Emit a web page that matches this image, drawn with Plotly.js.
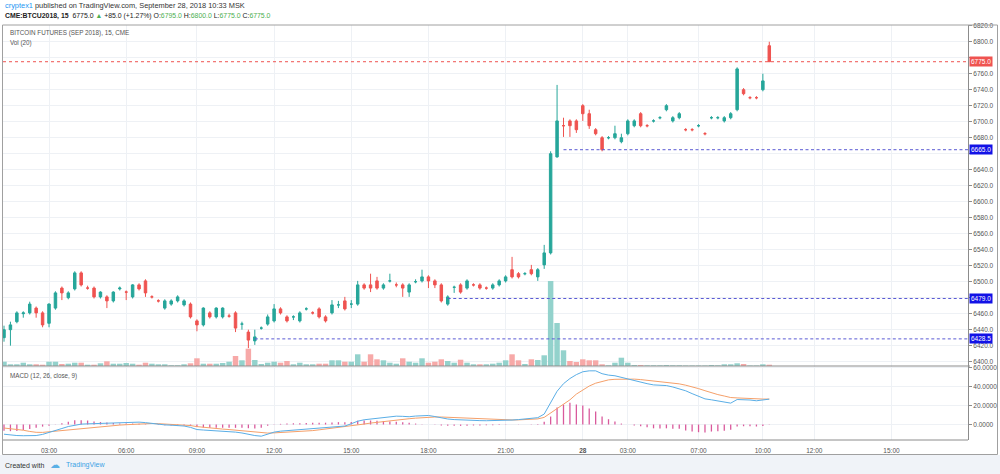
<!DOCTYPE html>
<html><head><meta charset="utf-8">
<script src="https://cdn.plot.ly/plotly-3.0.1.min.js"></script>
<style>html,body{margin:0;padding:0;background:#fff;}#chart{width:1000px;height:474px;}</style>
</head><body><div id="chart"></div>
<script>
// ---- data (15-minute bars, CME:BTCU2018) ----
const openP = [6430,6440,6450,6460,6461,6467,6461,6448,6467,6492,6480,6491,6511,6492,6492,6481,6481,6476,6491,6487,
6481,6496,6501,6481,6476,6467,6472,6476,6471,6472,6451,6446,6461,6456,6456,6457,6461,6447,6437,6426,
6442,6447,6451,6466,6456,6456,6451,6466,6461,6466,6456,6461,6471,6476,6472,6472,6496,6496,6501,6492,
6501,6496,6496,6487,6500,6501,6506,6501,6496,6472,6493,6496,6492,6496,6496,6492,6492,6496,6501,6515,
6510,6510,6515,6506,6521,6536,6656,6695,6701,6701,6720,6710,6690,6680,6680,6680,6675,6685,6695,6710,
6695,6701,6705,6715,6701,6705,6690,6690,6695,6685,6705,6705,6701,6705,6715,6740,6730,6730,6740,6795];
const highP = [6445,6450,6463,6463,6475,6469,6463,6473,6488,6494,6488,6513,6513,6495,6494,6488,6483,6488,6494,6489,
6497,6498,6503,6483,6478,6478,6478,6483,6478,6474,6453,6468,6463,6468,6468,6460,6463,6450,6440,6440,
6444,6459,6472,6468,6458,6458,6463,6468,6463,6468,6458,6477,6476,6481,6477,6501,6498,6510,6506,6498,
6510,6499,6498,6498,6503,6515,6508,6503,6498,6483,6495,6498,6503,6498,6498,6494,6498,6503,6508,6531,
6512,6512,6521,6517,6546,6663,6746,6705,6703,6703,6722,6715,6692,6682,6682,6695,6685,6703,6703,6712,
6697,6703,6707,6722,6707,6712,6692,6692,6697,6687,6707,6707,6707,6712,6768,6742,6732,6732,6760,6800];
const lowP = [6425,6420,6448,6455,6459,6455,6443,6443,6465,6477,6478,6489,6494,6490,6479,6479,6467,6474,6489,6477,
6479,6489,6481,6479,6474,6465,6470,6474,6469,6454,6438,6444,6454,6454,6454,6455,6437,6440,6417,6421,
6440,6445,6449,6459,6449,6452,6449,6464,6459,6454,6449,6459,6467,6464,6467,6470,6490,6487,6490,6490,
6499,6493,6481,6481,6498,6499,6492,6492,6474,6470,6486,6485,6490,6494,6490,6490,6490,6494,6499,6504,
6504,6508,6508,6501,6516,6534,6655,6681,6681,6686,6701,6691,6683,6663,6678,6678,6673,6683,6693,6693,
6693,6699,6703,6713,6699,6703,6688,6688,6693,6683,6703,6703,6699,6703,6713,6733,6728,6728,6738,6775];
const closeP = [6440,6446,6461,6461,6472,6461,6446,6472,6486,6486,6486,6511,6496,6492,6481,6487,6476,6487,6492,6487,
6496,6491,6486,6481,6476,6476,6476,6481,6476,6456,6446,6467,6456,6467,6467,6457,6442,6447,6427,6431,
6442,6456,6466,6461,6451,6456,6461,6466,6461,6456,6451,6471,6471,6466,6472,6496,6492,6492,6492,6496,
6501,6496,6492,6496,6500,6506,6501,6496,6476,6481,6493,6487,6501,6496,6492,6492,6496,6501,6506,6506,
6506,6510,6510,6515,6536,6660,6701,6695,6695,6690,6710,6695,6685,6665,6680,6685,6680,6701,6701,6695,
6695,6701,6705,6720,6705,6710,6690,6690,6695,6685,6705,6705,6705,6710,6766,6735,6730,6730,6751,6775];
const volume = [43,17,17,33,17,17,13,43,43,20,23,33,33,13,13,27,47,23,23,30,
23,13,33,23,17,17,7,7,17,27,77,23,23,23,30,43,100,57,173,60,
20,33,43,33,50,17,33,17,17,23,23,57,57,43,43,117,43,117,67,57,
33,23,77,43,33,77,33,43,67,50,33,63,33,17,17,17,23,33,57,117,
57,20,67,60,107,850,430,157,50,40,67,57,57,17,7,33,83,33,10,10,
7,7,7,10,7,7,5,5,5,5,10,7,17,17,27,20,5,5,17,13];
const macdLine = [-10.2,-11.3,-11.6,-11.8,-11.9,-11.6,-10.4,-8.6,-6.4,-4.2,
-2.1,-0.6,0.4,0.7,0.9,1.1,1.3,1.5,1.7,2.1,
2.5,2.5,2.0,1.0,0.1,-0.4,-0.7,-1.0,-1.6,-3.0,
-5.3,-5.8,-6.2,-6.5,-6.9,-7.3,-8.0,-8.9,-10.5,-11.6,
-12.3,-10.0,-8.0,-7.0,-6.5,-6.1,-5.6,-5.0,-4.4,-3.9,
-3.4,-3.0,-2.4,-1.6,0.8,3.5,5.0,5.9,6.6,7.2,
7.9,8.8,8.6,8.2,8.9,9.3,9.5,8.4,6.9,5.8,
5.2,4.8,4.5,4.3,4.1,4.0,4.0,4.1,4.3,4.7,
5.2,5.7,6.3,7.2,11,23,35,43,48.4,52.5,
55.5,56.5,56.5,53.5,52,51.3,49.5,48,46,44.5,
43,41.7,41.3,41,39.5,37.9,35.5,32.5,29.5,27,
26,25,24,22.5,26.3,26.3,25.8,25,25.6,26.7];
const signalLine = [-3.7,-4.3,-4.8,-6.0,-7.3,-8.2,-8.3,-7.6,-6.9,-6.2,
-5.4,-4.7,-4.0,-3.3,-2.6,-2.0,-1.5,-1.0,-0.6,-0.2,
0.3,0.8,1.1,1.1,0.9,0.6,0.3,0.0,-0.4,-1.1,
-2.2,-3.0,-3.7,-4.3,-4.8,-5.3,-5.9,-6.5,-7.3,-8.1,
-8.8,-9.0,-8.8,-8.5,-8.2,-7.8,-7.4,-6.9,-6.4,-5.6,
-4.8,-4.1,-3.4,-2.6,-1.7,-0.6,0.5,1.5,2.4,3.1,
3.9,4.7,5.5,6.1,6.7,7.3,7.7,7.9,7.9,7.6,
7.2,6.8,6.4,6.0,5.7,5.4,5.1,4.9,4.8,4.8,
4.9,5.1,5.4,5.9,7.5,12,17,21.5,26,32,
36.5,40.5,43.5,45.5,47,47.6,47.9,48,47.8,47.3,
46.6,46,45.4,44.8,44,42.8,41.4,39.8,37.8,35.6,
33.4,31.5,30,28.4,28,27.6,27.2,26.9,26.8,26.8];
const macdHist = [-6.5,-7,-6.8,-5.8,-4.6,-3.4,-2.2,-1.2,-0.2,1.4,
2.8,4.5,4.5,4.2,3.2,2.6,2,1.5,1.1,1,
1,0.7,0.4,0,-0.6,-0.9,-1,-1,-1.1,-1.5,
-2.5,-3.2,-3.4,-3.3,-3.4,-3.5,-3.5,-3.5,-3.9,-4.2,
-3.5,-1.4,-0.3,0.7,1,1.3,1.4,1.5,1.8,1.8,
1.9,2.1,2.5,2.5,2.6,3.9,4.2,4.2,3.9,3.7,
3.2,2.8,2.5,1.8,1,0.3,0,-0.3,-1,-1.4,
-1.4,-1.4,-1.3,-1,-1,-0.9,-0.7,-0.5,-0.3,0,
-0.2,-0.1,0.3,0.6,3,8.4,18,21,22.8,21,
20,16.8,13.7,8.4,5.6,3.3,1,0,-1,-1.8,
-3,-4,-4.2,-4,-4.5,-4.5,-6.3,-7.4,-8.1,-8.4,
-7.4,-7,-6.5,-5.6,-2.1,-1.8,-1.8,-2.1,-1.5,-0.3];
const tickBars = [7,19,30,42,54,66,78,90,97,108,118,126,138];
const tickLabels = ['03:00','06:00','09:00','12:00','15:00','18:00','21:00','<b>28</b>','03:00','07:00','10:00','12:00','15:00'];
const priceTicks = [6400,6420,6440,6460,6480,6500,6520,6540,6560,6580,6600,6620,6640,6660,6680,6700,6720,6740,6760,6780,6800,6820];
const macdTicks = [0, 20, 40, 60];
const levelPrices = [6665, 6479, 6428.5];
const levelStartBars = [87, 69, 39];
const lastPrice = 6775;

// ---- layout geometry / styles ----
const W = 1000, H = 474, ML = 3, MR = 32, MT = 25, MB = 34;
const plotW = W - ML - MR, plotH = H - MT - MB;
const pxX = px => (px - ML) / plotW;
const pxY = py => (H - MB - py) / plotH;
const macdFrac = pxY(366);
const barPx = 6.431;
const xr = [-(4 - ML) / barPx, -(4 - ML) / barPx + plotW / barPx];
const FONT = 'Liberation Sans, Arial, sans-serif';
const UP = '#26a69a', DN = '#ef5350', UPV = '#93d2cc', DNV = '#f7a9a8';
const GRID = '#eef1f5', AX = '#8c8c8c', TXT = '#555555';
const LVL = '#5a5ad4', LVLBG = '#1212e6';

const xs = openP.map((_, i) => i);
const volColors = openP.map((o, i) => closeP[i] >= o ? UPV : DNV);
// tick labels hidden behind the price tags (as in the original, the tags cover them)
const tagPrices = [lastPrice].concat(levelPrices);
const priceTickText = priceTicks.map(v => tagPrices.some(p => Math.abs(p - v) < 8) ? '' : v.toFixed(1));

const traces = [
  {type: 'bar', x: xs, y: volume, xaxis: 'x', yaxis: 'y', width: 0.85,
   marker: {color: volColors, line: {width: 0}}, hoverinfo: 'skip'},
  {type: 'candlestick', x: xs, open: openP, high: highP, low: lowP, close: closeP,
   xaxis: 'x', yaxis: 'y3', whiskerwidth: 0,
   increasing: {line: {color: UP, width: 1}, fillcolor: UP},
   decreasing: {line: {color: DN, width: 1}, fillcolor: DN}, hoverinfo: 'skip'},
  {type: 'bar', x: xs, y: macdHist, xaxis: 'x', yaxis: 'y2', width: 0.2,
   marker: {color: '#d9599c', line: {width: 0}}, hoverinfo: 'skip'},
  {type: 'scatter', mode: 'lines', x: xs, y: signalLine, xaxis: 'x', yaxis: 'y2',
   line: {color: '#f5a06a', width: 1}, hoverinfo: 'skip'},
  {type: 'scatter', mode: 'lines', x: xs, y: macdLine, xaxis: 'x', yaxis: 'y2',
   line: {color: '#5aaee6', width: 1}, hoverinfo: 'skip'}
];

const shapes = [
  {type: 'rect', xref: 'paper', yref: 'paper', x0: pxX(0), x1: pxX(1000), y0: pxY(474), y1: pxY(455),
   fillcolor: '#f0f3f8', line: {width: 0}, layer: 'below'},
  {type: 'rect', xref: 'paper', yref: 'paper', x0: pxX(2.5), x1: pxX(997.5), y0: pxY(454.5), y1: pxY(25),
   line: {color: '#a0a0a0', width: 1}, fillcolor: 'rgba(0,0,0,0)'},
  {type: 'line', xref: 'paper', yref: 'paper', x0: 0, x1: pxX(970), y0: macdFrac, y1: macdFrac,
   line: {color: AX, width: 1}},
  {type: 'line', xref: 'paper', yref: 'paper', x0: 0, x1: 1, y0: 0, y1: 0,
   line: {color: AX, width: 1}},
  {type: 'line', xref: 'paper', yref: 'y3', x0: 0, x1: 1, y0: lastPrice, y1: lastPrice,
   line: {color: DN, width: 1, dash: 'dot'}}
];
levelPrices.forEach((p, k) => shapes.push({type: 'line', xref: 'x', yref: 'y3',
  x0: levelStartBars[k], x1: xr[1], y0: p, y1: p, line: {color: LVL, width: 1, dash: '3px,2.5px'}}));

const tagFont = {family: FONT, size: 6.5, color: '#ffffff'};
const annotations = [
  {xref: 'paper', yref: 'y3', x: 1, y: lastPrice, xanchor: 'left', yanchor: 'middle', xshift: 1,
   text: lastPrice.toFixed(1), showarrow: false, bgcolor: DN, font: tagFont, borderpad: 1}
];
levelPrices.forEach(p => annotations.push({xref: 'paper', yref: 'y3', x: 1, y: p, xanchor: 'left',
  yanchor: 'middle', xshift: 1, text: p.toFixed(1), showarrow: false, bgcolor: LVLBG, font: tagFont, borderpad: 1}));

const G = '#4caf50';
const hdr = (txt, py, px, size, color) => ({xref: 'paper', yref: 'paper', x: pxX(px), y: pxY(py),
  xanchor: 'left', yanchor: 'middle', text: txt, showarrow: false, align: 'left',
  font: {family: FONT, size: size, color: color}});
annotations.push(
  hdr('<span style="color:#2196f3">cryptex1</span> published on TradingView.com, September 28, 2018 10:33 MSK', 6, 3, 7.4, '#333333'),
  hdr('<b>CME:BTCU2018, 15</b>  6775.0 <span style="color:' + G + '">▲</span> +85.0 (+1.27%) O:<span style="color:' + G + '">6795.0</span> H:<span style="color:' + G + '">6800.0</span> L:<span style="color:' + G + '">6775.0</span> C:<span style="color:' + G + '">6775.0</span>', 15.5, 3, 6.9, '#222222'),
  hdr('BITCOIN FUTURES (SEP 2018), 15, CME', 33, 8, 6.3, TXT),
  hdr('Vol (20)', 42.7, 8, 6.3, TXT),
  hdr('MACD (12, 26, close, 9)', 376, 8, 6.3, TXT),
  hdr('Created with', 465, 3, 7, '#333333'),
  hdr('☁', 464.5, 48, 10, '#5ab0e6'),
  hdr('TradingView', 465, 64, 7, '#3ba2e5')
);

const layout = {
  width: W, height: H, margin: {l: ML, r: MR, t: MT, b: MB, pad: 0},
  paper_bgcolor: '#ffffff', plot_bgcolor: '#ffffff', showlegend: false,
  hovermode: false, dragmode: false, boxgap: 0.45,
  font: {family: FONT, size: 6.5, color: TXT},
  xaxis: {range: xr, anchor: 'y2', tickmode: 'array', tickvals: tickBars, ticktext: tickLabels,
    showgrid: true, gridcolor: GRID, gridwidth: 1, zeroline: false, showline: false,
    ticks: 'outside', ticklen: 4, tickcolor: 'rgba(0,0,0,0)',
    tickfont: {family: FONT, size: 6.5, color: TXT}, rangeslider: {visible: false}, fixedrange: true},
  yaxis: {domain: [macdFrac, 1], range: [0, 3410], visible: false, fixedrange: true},
  yaxis3: {overlaying: 'y', side: 'right', range: [6394.6, 6820.9], tickmode: 'array',
    tickvals: priceTicks, ticktext: priceTickText, showgrid: true, gridcolor: GRID, zeroline: false, showline: true,
    linecolor: AX, ticks: 'outside', ticklen: 3, tickcolor: AX,
    tickfont: {family: FONT, size: 6.5, color: TXT}, fixedrange: true},
  yaxis2: {domain: [0, macdFrac], anchor: 'x', side: 'right', range: [-16.3, 61.6],
    tickmode: 'array', tickvals: macdTicks, tickformat: '.4f', showgrid: true, gridcolor: GRID,
    zeroline: false, showline: true, linecolor: AX, ticks: 'outside', ticklen: 3, tickcolor: AX,
    tickfont: {family: FONT, size: 6.5, color: TXT}, fixedrange: true},
  shapes: shapes, annotations: annotations
};

Plotly.newPlot('chart', traces, layout, {displayModeBar: false, staticPlot: true});
</script></body></html>
